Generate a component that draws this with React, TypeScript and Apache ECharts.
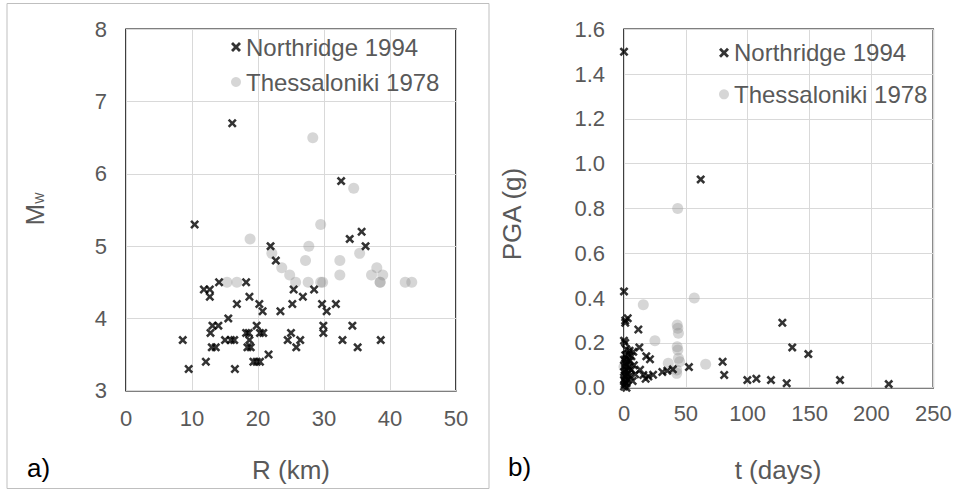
import React, { useEffect, useRef } from "react";
import * as echarts from "echarts";

// ---------- data ----------
const northridgeRM: [number, number][] = [
  [8.6, 3.7], [9.5, 3.3], [10.4, 5.3], [12.1, 3.4], [11.8, 4.4], [12.7, 4.4], [12.7, 4.3],
  [14.1, 4.5], [13.1, 3.9], [12.8, 3.8], [14.0, 3.9], [13.0, 3.6], [13.6, 3.6], [15.5, 4.0],
  [15.0, 3.7], [15.9, 3.7], [16.1, 6.7], [16.5, 3.3], [16.4, 3.7], [16.8, 4.2], [18.2, 4.5],
  [18.7, 4.3], [18.2, 3.8], [18.4, 3.6], [18.7, 3.7], [18.9, 3.6], [18.6, 3.8], [19.3, 3.4],
  [19.8, 3.9], [19.8, 3.4], [20.2, 4.2], [20.3, 3.8], [20.8, 3.8], [20.7, 4.1], [20.3, 3.4],
  [21.6, 3.5], [21.9, 5.0], [22.7, 4.8], [23.4, 4.1], [24.5, 3.7], [25.0, 3.8], [25.2, 4.2],
  [25.4, 4.4], [25.8, 3.6], [26.4, 3.7], [26.8, 4.3], [28.5, 4.4], [29.7, 4.2], [29.9, 3.9],
  [29.9, 3.8], [30.4, 4.1], [31.8, 4.2], [32.6, 5.9], [32.8, 3.7], [33.9, 5.1], [34.3, 3.9],
  [35.1, 3.6], [35.7, 5.2], [36.3, 5.0], [38.6, 3.7],
];
const thessRM: [number, number][] = [
  [15.3, 4.5], [16.8, 4.5], [18.8, 5.1], [22.1, 4.9], [23.6, 4.7], [24.8, 4.6], [25.7, 4.5],
  [27.2, 4.8], [27.6, 4.5], [27.7, 5.0], [28.3, 6.5], [29.5, 5.3], [29.5, 4.5], [29.8, 4.5],
  [32.4, 4.8], [32.4, 4.6], [34.5, 5.8], [35.4, 4.9], [37.2, 4.6], [38.0, 4.7], [38.9, 4.6],
  [38.5, 4.5], [38.5, 4.5], [42.3, 4.5], [43.3, 4.5],
];
const northridgeTP: [number, number][] = [
  [0, 1.5], [0, 0.43], [62, 0.93], [1, 0.3], [3, 0.31], [1, 0.29], [11.6, 0.26], [0, 0.21],
  [1, 0.2], [12.4, 0.18], [7.5, 0.16], [18, 0.14], [21, 0.127], [13, 0.08], [15.6, 0.057],
  [17.5, 0.04], [19.7, 0.05], [23.5, 0.058], [31, 0.07], [35, 0.076], [39.5, 0.082],
  [52.5, 0.092], [79.7, 0.116], [81, 0.057], [99.7, 0.034], [107, 0.04], [118.8, 0.034],
  [128, 0.29], [131.5, 0.02], [136, 0.18], [149, 0.15], [174.6, 0.034], [214, 0.016],
  [0, 0.005], [0.5, 0.015], [1, 0.025], [0, 0.035], [2, 0.02], [1.5, 0.045], [0.5, 0.055],
  [2.5, 0.06], [0, 0.07], [1, 0.08], [3, 0.075], [0.5, 0.095], [2, 0.1], [4, 0.09], [1, 0.11],
  [3, 0.115], [0, 0.125], [2, 0.13], [5, 0.12], [1, 0.145], [3.5, 0.15], [6, 0.14], [2, 0.17],
  [4.5, 0.165], [8, 0.1], [6, 0.08], [5, 0.05], [9, 0.06], [3, 0.035], [7, 0.03], [2, 0.0],
];
const thessTP: [number, number][] = [
  [15.6, 0.37], [25, 0.21], [43.4, 0.8], [56.8, 0.4], [66, 0.105], [43, 0.28], [43.5, 0.265],
  [44, 0.243], [43, 0.183], [43.5, 0.168], [44, 0.131], [45, 0.116], [35.8, 0.109],
  [42.6, 0.079], [42.6, 0.064], [0, 0.094],
];
const rTicks = { min: 0, max: 50, interval: 10 };
const mwTicks = { min: 3, max: 8, interval: 1 };
const tTicks = { min: 0, max: 250, interval: 50 };
const pgaTicks = { min: 0, max: 1.6, interval: 0.2 };
const seriesNames = ["Northridge 1994", "Thessaloniki 1978"];

const CROSS =
  "path://M0,2 L2,0 L5,3 L8,0 L10,2 L7,5 L10,8 L8,10 L5,7 L2,10 L0,8 L3,5 Z";
const FONT = "Liberation Sans, Arial, sans-serif";
const GREY_TXT = "#595959";
const CIRCLE_COLOR = "rgba(140,140,140,0.45)";

export default function App() {
  const ref = useRef<HTMLDivElement>(null);
  useEffect(() => {
    document.body.style.margin = "0";
    const chart = echarts.init(ref.current!, null, { renderer: "svg" });
    const axisLabel = (fmt?: (v: number) => string, margin = 18) => ({
      color: GREY_TXT,
      fontSize: 22,
      fontFamily: FONT,
      margin,
      showMinLabel: true,
      showMaxLabel: true,
      formatter: fmt,
    });
    const splitLine = { show: true, lineStyle: { color: "#d9d9d9", width: 1 } };
    const commonAxis = {
      axisLine: { show: false },
      axisTick: { show: false },
      splitLine,
    };
    const legendBase = {
      orient: "vertical",
      itemWidth: 10,
      itemHeight: 10,
      padding: 0,
      data: seriesNames,
      textStyle: { color: GREY_TXT, fontSize: 24, fontFamily: FONT },
      selectedMode: false,
    };
    chart.setOption({
      animation: false,
      backgroundColor: "#fff",
      grid: [
        { left: 126, top: 29.3, width: 330, height: 361.4, show: true, borderColor: "#000", borderWidth: 1.5, backgroundColor: "transparent" },
        { left: 624, top: 29.3, width: 309.3, height: 358.4, show: true, borderColor: "#000", borderWidth: 1.5, backgroundColor: "transparent" },
      ],
      xAxis: [
        { type: "value", gridIndex: 0, ...rTicks, ...commonAxis, axisLabel: axisLabel(undefined, 17) },
        { type: "value", gridIndex: 1, ...tTicks, ...commonAxis, axisLabel: axisLabel(undefined, 15) },
      ],
      yAxis: [
        { type: "value", gridIndex: 0, ...mwTicks, ...commonAxis, axisLabel: axisLabel(undefined, 19) },
        { type: "value", gridIndex: 1, ...pgaTicks, ...commonAxis, axisLabel: axisLabel((v: number) => v.toFixed(1), 19) },
      ],
      legend: [
        { ...legendBase, left: 231, top: 35, itemGap: 11 },
        { ...legendBase, left: 719, top: 40.7, itemGap: 17.6 },
      ],
      series: [
        { name: seriesNames[1], type: "scatter", xAxisIndex: 0, yAxisIndex: 0, data: thessRM, symbol: "circle", symbolSize: 11, itemStyle: { color: CIRCLE_COLOR } },
        { name: seriesNames[0], type: "scatter", xAxisIndex: 0, yAxisIndex: 0, data: northridgeRM, symbol: CROSS, symbolSize: 9, itemStyle: { color: "#000" } },
        { name: seriesNames[1], type: "scatter", xAxisIndex: 1, yAxisIndex: 1, data: thessTP, symbol: "circle", symbolSize: 11, itemStyle: { color: CIRCLE_COLOR } },
        { name: seriesNames[0], type: "scatter", xAxisIndex: 1, yAxisIndex: 1, data: northridgeTP, symbol: CROSS, symbolSize: 9, itemStyle: { color: "#000" } },
      ],
      graphic: [
        { type: "rect", shape: { x: 7, y: 3.5, width: 482, height: 485 }, style: { fill: "none", stroke: "#bfbfbf", lineWidth: 1 }, silent: true },
        { type: "text", x: 291, y: 470, style: { text: "R (km)", fontSize: 26, fontFamily: FONT, fill: GREY_TXT, align: "center", verticalAlign: "middle" } },
        { type: "text", x: 778, y: 470, style: { text: "t (days)", fontSize: 26, fontFamily: FONT, fill: GREY_TXT, align: "center", verticalAlign: "middle" } },
        { type: "text", x: 27, y: 468, style: { text: "a)", fontSize: 26, fontFamily: FONT, fill: "#000", align: "left", verticalAlign: "middle" } },
        { type: "text", x: 508, y: 467, style: { text: "b)", fontSize: 26, fontFamily: FONT, fill: "#000", align: "left", verticalAlign: "middle" } },
        {
          type: "text", x: 33, y: 209, rotation: Math.PI / 2,
          style: {
            text: "{m|M}{s|W}", align: "center", verticalAlign: "middle", fill: GREY_TXT,
            rich: {
              m: { fontSize: 26, fontFamily: FONT, fill: GREY_TXT, lineHeight: 30, verticalAlign: "bottom" },
              s: { fontSize: 12, fontFamily: FONT, fill: GREY_TXT, verticalAlign: "bottom", padding: [0, 0, 2, 0] },
            },
          },
        },
        { type: "text", x: 512, y: 214, rotation: Math.PI / 2, style: { text: "PGA (g)", fontSize: 26, fontFamily: FONT, fill: GREY_TXT, align: "center", verticalAlign: "middle" } },
      ],
    });
    return () => chart.dispose();
  }, []);
  return <div ref={ref} style={{ position: "fixed", left: 0, top: 0, width: 955, height: 491 }} />;
}
